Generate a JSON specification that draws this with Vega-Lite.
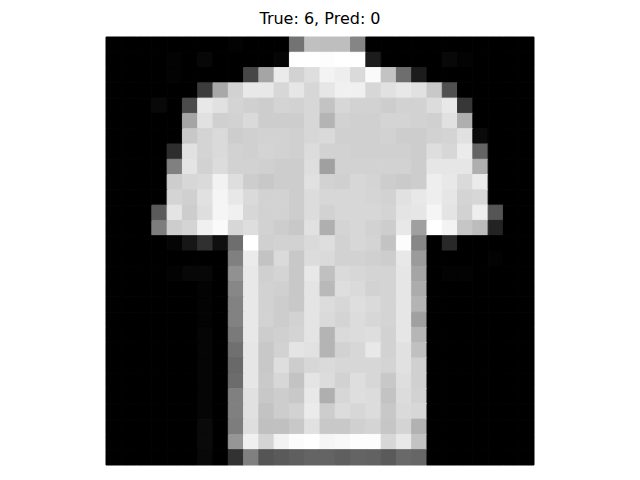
{
  "$schema": "https://vega.github.io/schema/vega-lite/v6.json",
  "autosize": {"type": "none"},
  "padding": {"left": 106, "top": 37, "right": 106, "bottom": 15},
  "width": 428,
  "height": 428,
  "title": {"text": "True: 6, Pred: 0", "font": "DejaVu Sans", "fontSize": 16, "fontWeight": "normal", "color": "#000000", "offset": 10},
  "data": {
    "values": [
      {"r":0,"c":0,"v":0},{"r":0,"c":1,"v":0},{"r":0,"c":2,"v":0},{"r":0,"c":3,"v":0},{"r":0,"c":4,"v":0},{"r":0,"c":5,"v":0},{"r":0,"c":6,"v":0},{"r":0,"c":7,"v":0},{"r":0,"c":8,"v":3},{"r":0,"c":9,"v":0},{"r":0,"c":10,"v":0},{"r":0,"c":11,"v":0},{"r":0,"c":12,"v":115},{"r":0,"c":13,"v":192},{"r":0,"c":14,"v":190},{"r":0,"c":15,"v":190},{"r":0,"c":16,"v":133},{"r":0,"c":17,"v":0},{"r":0,"c":18,"v":0},{"r":0,"c":19,"v":0},{"r":0,"c":20,"v":0},{"r":0,"c":21,"v":0},{"r":0,"c":22,"v":0},{"r":0,"c":23,"v":0},{"r":0,"c":24,"v":0},{"r":0,"c":25,"v":0},{"r":0,"c":26,"v":0},{"r":0,"c":27,"v":0},
      {"r":1,"c":0,"v":0},{"r":1,"c":1,"v":0},{"r":1,"c":2,"v":0},{"r":1,"c":3,"v":0},{"r":1,"c":4,"v":3},{"r":1,"c":5,"v":0},{"r":1,"c":6,"v":7},{"r":1,"c":7,"v":0},{"r":1,"c":8,"v":0},{"r":1,"c":9,"v":0},{"r":1,"c":10,"v":0},{"r":1,"c":11,"v":5},{"r":1,"c":12,"v":255},{"r":1,"c":13,"v":255},{"r":1,"c":14,"v":253},{"r":1,"c":15,"v":255},{"r":1,"c":16,"v":255},{"r":1,"c":17,"v":28},{"r":1,"c":18,"v":0},{"r":1,"c":19,"v":0},{"r":1,"c":20,"v":0},{"r":1,"c":21,"v":0},{"r":1,"c":22,"v":8},{"r":1,"c":23,"v":3},{"r":1,"c":24,"v":0},{"r":1,"c":25,"v":0},{"r":1,"c":26,"v":0},{"r":1,"c":27,"v":0},
      {"r":2,"c":0,"v":0},{"r":2,"c":1,"v":0},{"r":2,"c":2,"v":0},{"r":2,"c":3,"v":0},{"r":2,"c":4,"v":3},{"r":2,"c":5,"v":0},{"r":2,"c":6,"v":0},{"r":2,"c":7,"v":0},{"r":2,"c":8,"v":0},{"r":2,"c":9,"v":70},{"r":2,"c":10,"v":165},{"r":2,"c":11,"v":235},{"r":2,"c":12,"v":210},{"r":2,"c":13,"v":222},{"r":2,"c":14,"v":243},{"r":2,"c":15,"v":238},{"r":2,"c":16,"v":218},{"r":2,"c":17,"v":250},{"r":2,"c":18,"v":195},{"r":2,"c":19,"v":110},{"r":2,"c":20,"v":28},{"r":2,"c":21,"v":0},{"r":2,"c":22,"v":0},{"r":2,"c":23,"v":0},{"r":2,"c":24,"v":0},{"r":2,"c":25,"v":0},{"r":2,"c":26,"v":0},{"r":2,"c":27,"v":0},
      {"r":3,"c":0,"v":0},{"r":3,"c":1,"v":0},{"r":3,"c":2,"v":0},{"r":3,"c":3,"v":0},{"r":3,"c":4,"v":0},{"r":3,"c":5,"v":0},{"r":3,"c":6,"v":60},{"r":3,"c":7,"v":168},{"r":3,"c":8,"v":210},{"r":3,"c":9,"v":232},{"r":3,"c":10,"v":232},{"r":3,"c":11,"v":215},{"r":3,"c":12,"v":230},{"r":3,"c":13,"v":215},{"r":3,"c":14,"v":230},{"r":3,"c":15,"v":240},{"r":3,"c":16,"v":240},{"r":3,"c":17,"v":215},{"r":3,"c":18,"v":225},{"r":3,"c":19,"v":232},{"r":3,"c":20,"v":225},{"r":3,"c":21,"v":200},{"r":3,"c":22,"v":80},{"r":3,"c":23,"v":0},{"r":3,"c":24,"v":0},{"r":3,"c":25,"v":0},{"r":3,"c":26,"v":0},{"r":3,"c":27,"v":0},
      {"r":4,"c":0,"v":0},{"r":4,"c":1,"v":0},{"r":4,"c":2,"v":0},{"r":4,"c":3,"v":8},{"r":4,"c":4,"v":0},{"r":4,"c":5,"v":75},{"r":4,"c":6,"v":232},{"r":4,"c":7,"v":225},{"r":4,"c":8,"v":212},{"r":4,"c":9,"v":208},{"r":4,"c":10,"v":205},{"r":4,"c":11,"v":212},{"r":4,"c":12,"v":210},{"r":4,"c":13,"v":215},{"r":4,"c":14,"v":195},{"r":4,"c":15,"v":215},{"r":4,"c":16,"v":210},{"r":4,"c":17,"v":210},{"r":4,"c":18,"v":205},{"r":4,"c":19,"v":210},{"r":4,"c":20,"v":210},{"r":4,"c":21,"v":220},{"r":4,"c":22,"v":232},{"r":4,"c":23,"v":55},{"r":4,"c":24,"v":0},{"r":4,"c":25,"v":0},{"r":4,"c":26,"v":0},{"r":4,"c":27,"v":0},
      {"r":5,"c":0,"v":0},{"r":5,"c":1,"v":0},{"r":5,"c":2,"v":0},{"r":5,"c":3,"v":0},{"r":5,"c":4,"v":0},{"r":5,"c":5,"v":165},{"r":5,"c":6,"v":225},{"r":5,"c":7,"v":208},{"r":5,"c":8,"v":210},{"r":5,"c":9,"v":218},{"r":5,"c":10,"v":205},{"r":5,"c":11,"v":205},{"r":5,"c":12,"v":205},{"r":5,"c":13,"v":215},{"r":5,"c":14,"v":180},{"r":5,"c":15,"v":210},{"r":5,"c":16,"v":208},{"r":5,"c":17,"v":208},{"r":5,"c":18,"v":212},{"r":5,"c":19,"v":212},{"r":5,"c":20,"v":210},{"r":5,"c":21,"v":208},{"r":5,"c":22,"v":225},{"r":5,"c":23,"v":175},{"r":5,"c":24,"v":0},{"r":5,"c":25,"v":0},{"r":5,"c":26,"v":0},{"r":5,"c":27,"v":0},
      {"r":6,"c":0,"v":0},{"r":6,"c":1,"v":0},{"r":6,"c":2,"v":0},{"r":6,"c":3,"v":0},{"r":6,"c":4,"v":0},{"r":6,"c":5,"v":200},{"r":6,"c":6,"v":212},{"r":6,"c":7,"v":218},{"r":6,"c":8,"v":205},{"r":6,"c":9,"v":208},{"r":6,"c":10,"v":210},{"r":6,"c":11,"v":210},{"r":6,"c":12,"v":208},{"r":6,"c":13,"v":215},{"r":6,"c":14,"v":218},{"r":6,"c":15,"v":208},{"r":6,"c":16,"v":208},{"r":6,"c":17,"v":208},{"r":6,"c":18,"v":210},{"r":6,"c":19,"v":205},{"r":6,"c":20,"v":205},{"r":6,"c":21,"v":210},{"r":6,"c":22,"v":212},{"r":6,"c":23,"v":225},{"r":6,"c":24,"v":10},{"r":6,"c":25,"v":0},{"r":6,"c":26,"v":0},{"r":6,"c":27,"v":0},
      {"r":7,"c":0,"v":0},{"r":7,"c":1,"v":0},{"r":7,"c":2,"v":0},{"r":7,"c":3,"v":0},{"r":7,"c":4,"v":45},{"r":7,"c":5,"v":225},{"r":7,"c":6,"v":212},{"r":7,"c":7,"v":218},{"r":7,"c":8,"v":210},{"r":7,"c":9,"v":208},{"r":7,"c":10,"v":212},{"r":7,"c":11,"v":210},{"r":7,"c":12,"v":208},{"r":7,"c":13,"v":220},{"r":7,"c":14,"v":210},{"r":7,"c":15,"v":210},{"r":7,"c":16,"v":208},{"r":7,"c":17,"v":208},{"r":7,"c":18,"v":208},{"r":7,"c":19,"v":208},{"r":7,"c":20,"v":205},{"r":7,"c":21,"v":222},{"r":7,"c":22,"v":215},{"r":7,"c":23,"v":235},{"r":7,"c":24,"v":100},{"r":7,"c":25,"v":0},{"r":7,"c":26,"v":0},{"r":7,"c":27,"v":0},
      {"r":8,"c":0,"v":0},{"r":8,"c":1,"v":0},{"r":8,"c":2,"v":0},{"r":8,"c":3,"v":0},{"r":8,"c":4,"v":128},{"r":8,"c":5,"v":228},{"r":8,"c":6,"v":210},{"r":8,"c":7,"v":220},{"r":8,"c":8,"v":210},{"r":8,"c":9,"v":210},{"r":8,"c":10,"v":208},{"r":8,"c":11,"v":205},{"r":8,"c":12,"v":205},{"r":8,"c":13,"v":222},{"r":8,"c":14,"v":160},{"r":8,"c":15,"v":210},{"r":8,"c":16,"v":210},{"r":8,"c":17,"v":210},{"r":8,"c":18,"v":210},{"r":8,"c":19,"v":210},{"r":8,"c":20,"v":205},{"r":8,"c":21,"v":230},{"r":8,"c":22,"v":230},{"r":8,"c":23,"v":230},{"r":8,"c":24,"v":175},{"r":8,"c":25,"v":0},{"r":8,"c":26,"v":0},{"r":8,"c":27,"v":0},
      {"r":9,"c":0,"v":0},{"r":9,"c":1,"v":0},{"r":9,"c":2,"v":0},{"r":9,"c":3,"v":0},{"r":9,"c":4,"v":205},{"r":9,"c":5,"v":215},{"r":9,"c":6,"v":218},{"r":9,"c":7,"v":242},{"r":9,"c":8,"v":222},{"r":9,"c":9,"v":205},{"r":9,"c":10,"v":200},{"r":9,"c":11,"v":205},{"r":9,"c":12,"v":205},{"r":9,"c":13,"v":225},{"r":9,"c":14,"v":210},{"r":9,"c":15,"v":208},{"r":9,"c":16,"v":215},{"r":9,"c":17,"v":212},{"r":9,"c":18,"v":205},{"r":9,"c":19,"v":202},{"r":9,"c":20,"v":205},{"r":9,"c":21,"v":238},{"r":9,"c":22,"v":232},{"r":9,"c":23,"v":218},{"r":9,"c":24,"v":235},{"r":9,"c":25,"v":0},{"r":9,"c":26,"v":0},{"r":9,"c":27,"v":0},
      {"r":10,"c":0,"v":0},{"r":10,"c":1,"v":0},{"r":10,"c":2,"v":0},{"r":10,"c":3,"v":0},{"r":10,"c":4,"v":212},{"r":10,"c":5,"v":208},{"r":10,"c":6,"v":225},{"r":10,"c":7,"v":245},{"r":10,"c":8,"v":232},{"r":10,"c":9,"v":218},{"r":10,"c":10,"v":210},{"r":10,"c":11,"v":210},{"r":10,"c":12,"v":205},{"r":10,"c":13,"v":220},{"r":10,"c":14,"v":215},{"r":10,"c":15,"v":215},{"r":10,"c":16,"v":215},{"r":10,"c":17,"v":213},{"r":10,"c":18,"v":210},{"r":10,"c":19,"v":225},{"r":10,"c":20,"v":232},{"r":10,"c":21,"v":238},{"r":10,"c":22,"v":230},{"r":10,"c":23,"v":212},{"r":10,"c":24,"v":215},{"r":10,"c":25,"v":0},{"r":10,"c":26,"v":0},{"r":10,"c":27,"v":0},
      {"r":11,"c":0,"v":0},{"r":11,"c":1,"v":0},{"r":11,"c":2,"v":0},{"r":11,"c":3,"v":90},{"r":11,"c":4,"v":228},{"r":11,"c":5,"v":205},{"r":11,"c":6,"v":222},{"r":11,"c":7,"v":245},{"r":11,"c":8,"v":240},{"r":11,"c":9,"v":215},{"r":11,"c":10,"v":210},{"r":11,"c":11,"v":210},{"r":11,"c":12,"v":205},{"r":11,"c":13,"v":220},{"r":11,"c":14,"v":210},{"r":11,"c":15,"v":215},{"r":11,"c":16,"v":215},{"r":11,"c":17,"v":215},{"r":11,"c":18,"v":212},{"r":11,"c":19,"v":228},{"r":11,"c":20,"v":230},{"r":11,"c":21,"v":245},{"r":11,"c":22,"v":228},{"r":11,"c":23,"v":210},{"r":11,"c":24,"v":238},{"r":11,"c":25,"v":85},{"r":11,"c":26,"v":0},{"r":11,"c":27,"v":0},
      {"r":12,"c":0,"v":0},{"r":12,"c":1,"v":0},{"r":12,"c":2,"v":0},{"r":12,"c":3,"v":125},{"r":12,"c":4,"v":205},{"r":12,"c":5,"v":212},{"r":12,"c":6,"v":240},{"r":12,"c":7,"v":250},{"r":12,"c":8,"v":215},{"r":12,"c":9,"v":222},{"r":12,"c":10,"v":210},{"r":12,"c":11,"v":205},{"r":12,"c":12,"v":200},{"r":12,"c":13,"v":225},{"r":12,"c":14,"v":175},{"r":12,"c":15,"v":212},{"r":12,"c":16,"v":215},{"r":12,"c":17,"v":210},{"r":12,"c":18,"v":205},{"r":12,"c":19,"v":232},{"r":12,"c":20,"v":160},{"r":12,"c":21,"v":255},{"r":12,"c":22,"v":243},{"r":12,"c":23,"v":198},{"r":12,"c":24,"v":188},{"r":12,"c":25,"v":35},{"r":12,"c":26,"v":0},{"r":12,"c":27,"v":0},
      {"r":13,"c":0,"v":0},{"r":13,"c":1,"v":0},{"r":13,"c":2,"v":0},{"r":13,"c":3,"v":0},{"r":13,"c":4,"v":5},{"r":13,"c":5,"v":22},{"r":13,"c":6,"v":48},{"r":13,"c":7,"v":15},{"r":13,"c":8,"v":110},{"r":13,"c":9,"v":255},{"r":13,"c":10,"v":208},{"r":13,"c":11,"v":210},{"r":13,"c":12,"v":210},{"r":13,"c":13,"v":218},{"r":13,"c":14,"v":222},{"r":13,"c":15,"v":210},{"r":13,"c":16,"v":215},{"r":13,"c":17,"v":212},{"r":13,"c":18,"v":195},{"r":13,"c":19,"v":252},{"r":13,"c":20,"v":135},{"r":13,"c":21,"v":0},{"r":13,"c":22,"v":40},{"r":13,"c":23,"v":0},{"r":13,"c":24,"v":0},{"r":13,"c":25,"v":0},{"r":13,"c":26,"v":0},{"r":13,"c":27,"v":0},
      {"r":14,"c":0,"v":0},{"r":14,"c":1,"v":0},{"r":14,"c":2,"v":0},{"r":14,"c":3,"v":0},{"r":14,"c":4,"v":0},{"r":14,"c":5,"v":0},{"r":14,"c":6,"v":0},{"r":14,"c":7,"v":0},{"r":14,"c":8,"v":128},{"r":14,"c":9,"v":235},{"r":14,"c":10,"v":195},{"r":14,"c":11,"v":218},{"r":14,"c":12,"v":200},{"r":14,"c":13,"v":220},{"r":14,"c":14,"v":218},{"r":14,"c":15,"v":210},{"r":14,"c":16,"v":210},{"r":14,"c":17,"v":208},{"r":14,"c":18,"v":205},{"r":14,"c":19,"v":232},{"r":14,"c":20,"v":155},{"r":14,"c":21,"v":0},{"r":14,"c":22,"v":0},{"r":14,"c":23,"v":0},{"r":14,"c":24,"v":0},{"r":14,"c":25,"v":3},{"r":14,"c":26,"v":0},{"r":14,"c":27,"v":0},
      {"r":15,"c":0,"v":0},{"r":15,"c":1,"v":0},{"r":15,"c":2,"v":0},{"r":15,"c":3,"v":0},{"r":15,"c":4,"v":3},{"r":15,"c":5,"v":7},{"r":15,"c":6,"v":7},{"r":15,"c":7,"v":0},{"r":15,"c":8,"v":145},{"r":15,"c":9,"v":232},{"r":15,"c":10,"v":208},{"r":15,"c":11,"v":212},{"r":15,"c":12,"v":200},{"r":15,"c":13,"v":232},{"r":15,"c":14,"v":192},{"r":15,"c":15,"v":218},{"r":15,"c":16,"v":215},{"r":15,"c":17,"v":212},{"r":15,"c":18,"v":212},{"r":15,"c":19,"v":230},{"r":15,"c":20,"v":165},{"r":15,"c":21,"v":0},{"r":15,"c":22,"v":3},{"r":15,"c":23,"v":3},{"r":15,"c":24,"v":0},{"r":15,"c":25,"v":0},{"r":15,"c":26,"v":0},{"r":15,"c":27,"v":0},
      {"r":16,"c":0,"v":0},{"r":16,"c":1,"v":0},{"r":16,"c":2,"v":0},{"r":16,"c":3,"v":0},{"r":16,"c":4,"v":0},{"r":16,"c":5,"v":0},{"r":16,"c":6,"v":3},{"r":16,"c":7,"v":0},{"r":16,"c":8,"v":135},{"r":16,"c":9,"v":232},{"r":16,"c":10,"v":210},{"r":16,"c":11,"v":208},{"r":16,"c":12,"v":200},{"r":16,"c":13,"v":228},{"r":16,"c":14,"v":185},{"r":16,"c":15,"v":222},{"r":16,"c":16,"v":218},{"r":16,"c":17,"v":210},{"r":16,"c":18,"v":212},{"r":16,"c":19,"v":230},{"r":16,"c":20,"v":172},{"r":16,"c":21,"v":0},{"r":16,"c":22,"v":0},{"r":16,"c":23,"v":0},{"r":16,"c":24,"v":0},{"r":16,"c":25,"v":0},{"r":16,"c":26,"v":0},{"r":16,"c":27,"v":0},
      {"r":17,"c":0,"v":0},{"r":17,"c":1,"v":0},{"r":17,"c":2,"v":0},{"r":17,"c":3,"v":0},{"r":17,"c":4,"v":0},{"r":17,"c":5,"v":0},{"r":17,"c":6,"v":3},{"r":17,"c":7,"v":0},{"r":17,"c":8,"v":130},{"r":17,"c":9,"v":232},{"r":17,"c":10,"v":210},{"r":17,"c":11,"v":205},{"r":17,"c":12,"v":200},{"r":17,"c":13,"v":228},{"r":17,"c":14,"v":220},{"r":17,"c":15,"v":215},{"r":17,"c":16,"v":222},{"r":17,"c":17,"v":218},{"r":17,"c":18,"v":212},{"r":17,"c":19,"v":230},{"r":17,"c":20,"v":180},{"r":17,"c":21,"v":0},{"r":17,"c":22,"v":0},{"r":17,"c":23,"v":0},{"r":17,"c":24,"v":0},{"r":17,"c":25,"v":0},{"r":17,"c":26,"v":0},{"r":17,"c":27,"v":0},
      {"r":18,"c":0,"v":0},{"r":18,"c":1,"v":0},{"r":18,"c":2,"v":0},{"r":18,"c":3,"v":0},{"r":18,"c":4,"v":0},{"r":18,"c":5,"v":0},{"r":18,"c":6,"v":3},{"r":18,"c":7,"v":0},{"r":18,"c":8,"v":130},{"r":18,"c":9,"v":232},{"r":18,"c":10,"v":210},{"r":18,"c":11,"v":205},{"r":18,"c":12,"v":210},{"r":18,"c":13,"v":228},{"r":18,"c":14,"v":218},{"r":18,"c":15,"v":212},{"r":18,"c":16,"v":220},{"r":18,"c":17,"v":215},{"r":18,"c":18,"v":212},{"r":18,"c":19,"v":230},{"r":18,"c":20,"v":160},{"r":18,"c":21,"v":0},{"r":18,"c":22,"v":0},{"r":18,"c":23,"v":0},{"r":18,"c":24,"v":0},{"r":18,"c":25,"v":0},{"r":18,"c":26,"v":0},{"r":18,"c":27,"v":0},
      {"r":19,"c":0,"v":0},{"r":19,"c":1,"v":0},{"r":19,"c":2,"v":0},{"r":19,"c":3,"v":0},{"r":19,"c":4,"v":0},{"r":19,"c":5,"v":0},{"r":19,"c":6,"v":5},{"r":19,"c":7,"v":0},{"r":19,"c":8,"v":122},{"r":19,"c":9,"v":232},{"r":19,"c":10,"v":205},{"r":19,"c":11,"v":208},{"r":19,"c":12,"v":212},{"r":19,"c":13,"v":228},{"r":19,"c":14,"v":180},{"r":19,"c":15,"v":218},{"r":19,"c":16,"v":220},{"r":19,"c":17,"v":222},{"r":19,"c":18,"v":210},{"r":19,"c":19,"v":230},{"r":19,"c":20,"v":182},{"r":19,"c":21,"v":0},{"r":19,"c":22,"v":0},{"r":19,"c":23,"v":0},{"r":19,"c":24,"v":0},{"r":19,"c":25,"v":0},{"r":19,"c":26,"v":0},{"r":19,"c":27,"v":0},
      {"r":20,"c":0,"v":0},{"r":20,"c":1,"v":0},{"r":20,"c":2,"v":0},{"r":20,"c":3,"v":0},{"r":20,"c":4,"v":0},{"r":20,"c":5,"v":0},{"r":20,"c":6,"v":5},{"r":20,"c":7,"v":0},{"r":20,"c":8,"v":112},{"r":20,"c":9,"v":230},{"r":20,"c":10,"v":200},{"r":20,"c":11,"v":210},{"r":20,"c":12,"v":228},{"r":20,"c":13,"v":225},{"r":20,"c":14,"v":180},{"r":20,"c":15,"v":210},{"r":20,"c":16,"v":215},{"r":20,"c":17,"v":232},{"r":20,"c":18,"v":210},{"r":20,"c":19,"v":225},{"r":20,"c":20,"v":192},{"r":20,"c":21,"v":0},{"r":20,"c":22,"v":0},{"r":20,"c":23,"v":0},{"r":20,"c":24,"v":0},{"r":20,"c":25,"v":0},{"r":20,"c":26,"v":0},{"r":20,"c":27,"v":0},
      {"r":21,"c":0,"v":0},{"r":21,"c":1,"v":0},{"r":21,"c":2,"v":0},{"r":21,"c":3,"v":0},{"r":21,"c":4,"v":0},{"r":21,"c":5,"v":0},{"r":21,"c":6,"v":5},{"r":21,"c":7,"v":0},{"r":21,"c":8,"v":105},{"r":21,"c":9,"v":230},{"r":21,"c":10,"v":200},{"r":21,"c":11,"v":222},{"r":21,"c":12,"v":205},{"r":21,"c":13,"v":215},{"r":21,"c":14,"v":218},{"r":21,"c":15,"v":215},{"r":21,"c":16,"v":215},{"r":21,"c":17,"v":215},{"r":21,"c":18,"v":212},{"r":21,"c":19,"v":225},{"r":21,"c":20,"v":208},{"r":21,"c":21,"v":0},{"r":21,"c":22,"v":0},{"r":21,"c":23,"v":0},{"r":21,"c":24,"v":0},{"r":21,"c":25,"v":0},{"r":21,"c":26,"v":0},{"r":21,"c":27,"v":0},
      {"r":22,"c":0,"v":0},{"r":22,"c":1,"v":0},{"r":22,"c":2,"v":0},{"r":22,"c":3,"v":0},{"r":22,"c":4,"v":0},{"r":22,"c":5,"v":0},{"r":22,"c":6,"v":5},{"r":22,"c":7,"v":0},{"r":22,"c":8,"v":108},{"r":22,"c":9,"v":230},{"r":22,"c":10,"v":202},{"r":22,"c":11,"v":215},{"r":22,"c":12,"v":195},{"r":22,"c":13,"v":228},{"r":22,"c":14,"v":220},{"r":22,"c":15,"v":210},{"r":22,"c":16,"v":222},{"r":22,"c":17,"v":215},{"r":22,"c":18,"v":200},{"r":22,"c":19,"v":222},{"r":22,"c":20,"v":208},{"r":22,"c":21,"v":0},{"r":22,"c":22,"v":0},{"r":22,"c":23,"v":0},{"r":22,"c":24,"v":0},{"r":22,"c":25,"v":0},{"r":22,"c":26,"v":0},{"r":22,"c":27,"v":0},
      {"r":23,"c":0,"v":0},{"r":23,"c":1,"v":0},{"r":23,"c":2,"v":0},{"r":23,"c":3,"v":0},{"r":23,"c":4,"v":0},{"r":23,"c":5,"v":0},{"r":23,"c":6,"v":5},{"r":23,"c":7,"v":0},{"r":23,"c":8,"v":128},{"r":23,"c":9,"v":225},{"r":23,"c":10,"v":200},{"r":23,"c":11,"v":205},{"r":23,"c":12,"v":200},{"r":23,"c":13,"v":232},{"r":23,"c":14,"v":175},{"r":23,"c":15,"v":215},{"r":23,"c":16,"v":222},{"r":23,"c":17,"v":220},{"r":23,"c":18,"v":195},{"r":23,"c":19,"v":220},{"r":23,"c":20,"v":210},{"r":23,"c":21,"v":0},{"r":23,"c":22,"v":0},{"r":23,"c":23,"v":0},{"r":23,"c":24,"v":0},{"r":23,"c":25,"v":0},{"r":23,"c":26,"v":0},{"r":23,"c":27,"v":0},
      {"r":24,"c":0,"v":0},{"r":24,"c":1,"v":0},{"r":24,"c":2,"v":0},{"r":24,"c":3,"v":0},{"r":24,"c":4,"v":0},{"r":24,"c":5,"v":0},{"r":24,"c":6,"v":5},{"r":24,"c":7,"v":0},{"r":24,"c":8,"v":128},{"r":24,"c":9,"v":225},{"r":24,"c":10,"v":195},{"r":24,"c":11,"v":205},{"r":24,"c":12,"v":210},{"r":24,"c":13,"v":235},{"r":24,"c":14,"v":205},{"r":24,"c":15,"v":220},{"r":24,"c":16,"v":215},{"r":24,"c":17,"v":220},{"r":24,"c":18,"v":200},{"r":24,"c":19,"v":218},{"r":24,"c":20,"v":215},{"r":24,"c":21,"v":0},{"r":24,"c":22,"v":0},{"r":24,"c":23,"v":0},{"r":24,"c":24,"v":0},{"r":24,"c":25,"v":0},{"r":24,"c":26,"v":0},{"r":24,"c":27,"v":0},
      {"r":25,"c":0,"v":0},{"r":25,"c":1,"v":0},{"r":25,"c":2,"v":0},{"r":25,"c":3,"v":0},{"r":25,"c":4,"v":0},{"r":25,"c":5,"v":0},{"r":25,"c":6,"v":10},{"r":25,"c":7,"v":0},{"r":25,"c":8,"v":125},{"r":25,"c":9,"v":222},{"r":25,"c":10,"v":192},{"r":25,"c":11,"v":192},{"r":25,"c":12,"v":200},{"r":25,"c":13,"v":225},{"r":25,"c":14,"v":200},{"r":25,"c":15,"v":200},{"r":25,"c":16,"v":208},{"r":25,"c":17,"v":212},{"r":25,"c":18,"v":198},{"r":25,"c":19,"v":212},{"r":25,"c":20,"v":178},{"r":25,"c":21,"v":0},{"r":25,"c":22,"v":0},{"r":25,"c":23,"v":0},{"r":25,"c":24,"v":0},{"r":25,"c":25,"v":0},{"r":25,"c":26,"v":0},{"r":25,"c":27,"v":0},
      {"r":26,"c":0,"v":0},{"r":26,"c":1,"v":0},{"r":26,"c":2,"v":0},{"r":26,"c":3,"v":0},{"r":26,"c":4,"v":0},{"r":26,"c":5,"v":0},{"r":26,"c":6,"v":10},{"r":26,"c":7,"v":0},{"r":26,"c":8,"v":150},{"r":26,"c":9,"v":240},{"r":26,"c":10,"v":212},{"r":26,"c":11,"v":242},{"r":26,"c":12,"v":252},{"r":26,"c":13,"v":255},{"r":26,"c":14,"v":245},{"r":26,"c":15,"v":248},{"r":26,"c":16,"v":253},{"r":26,"c":17,"v":253},{"r":26,"c":18,"v":215},{"r":26,"c":19,"v":232},{"r":26,"c":20,"v":195},{"r":26,"c":21,"v":0},{"r":26,"c":22,"v":0},{"r":26,"c":23,"v":0},{"r":26,"c":24,"v":0},{"r":26,"c":25,"v":0},{"r":26,"c":26,"v":0},{"r":26,"c":27,"v":0},
      {"r":27,"c":0,"v":0},{"r":27,"c":1,"v":0},{"r":27,"c":2,"v":0},{"r":27,"c":3,"v":0},{"r":27,"c":4,"v":0},{"r":27,"c":5,"v":0},{"r":27,"c":6,"v":8},{"r":27,"c":7,"v":0},{"r":27,"c":8,"v":50},{"r":27,"c":9,"v":128},{"r":27,"c":10,"v":85},{"r":27,"c":11,"v":90},{"r":27,"c":12,"v":95},{"r":27,"c":13,"v":100},{"r":27,"c":14,"v":100},{"r":27,"c":15,"v":95},{"r":27,"c":16,"v":100},{"r":27,"c":17,"v":98},{"r":27,"c":18,"v":90},{"r":27,"c":19,"v":105},{"r":27,"c":20,"v":102},{"r":27,"c":21,"v":0},{"r":27,"c":22,"v":0},{"r":27,"c":23,"v":0},{"r":27,"c":24,"v":0},{"r":27,"c":25,"v":0},{"r":27,"c":26,"v":0},{"r":27,"c":27,"v":0}
    ]
  },
  "mark": {"type": "rect", "strokeWidth": 1, "opacity": 1, "fillOpacity": 1, "strokeOpacity": 1},
  "encoding": {
    "x": {"field": "c", "type": "ordinal", "axis": null, "scale": {"paddingInner": 0, "paddingOuter": 0}},
    "y": {"field": "r", "type": "ordinal", "axis": null, "scale": {"paddingInner": 0, "paddingOuter": 0}},
    "fill": {"field": "v", "type": "quantitative", "legend": null, "scale": {"domain": [0, 255], "range": ["#000000", "#ffffff"], "interpolate": "rgb"}},
    "stroke": {"field": "v", "type": "quantitative", "legend": null, "scale": {"domain": [0, 255], "range": ["#000000", "#ffffff"], "interpolate": "rgb"}}
  },
  "config": {"view": {"stroke": null}}
}
